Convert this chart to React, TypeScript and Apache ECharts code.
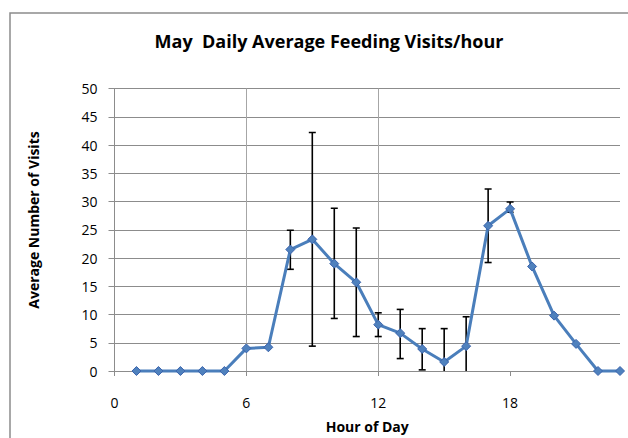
import React, { useEffect, useRef } from "react";
import * as echarts from "echarts";

const hours = [1, 2, 3, 4, 5, 6, 7, 8, 9, 10, 11, 12, 13, 14, 15, 16, 17, 18, 19, 20, 21, 22, 23];
const visits = [0, 0, 0, 0, 0, 4.0, 4.2, 21.5, 23.3, 19.0, 15.7, 8.2, 6.7, 3.9, 1.6, 4.4, 25.7, 28.7, 18.5, 9.8, 4.8, 0, 0];
const errHours = [8, 9, 10, 11, 12, 13, 14, 15, 16, 17, 18];
const errLow = [18.0, 4.4, 9.3, 6.1, 6.1, 2.2, 0.2, -4.2, -0.7, 19.2, 28.1];
const errHigh = [24.9, 42.2, 28.8, 25.3, 10.3, 10.9, 7.5, 7.5, 9.6, 32.2, 29.9];
const xTicks = [0, 6, 12, 18];

const FONT = "'Open Sans', 'Noto Sans', sans-serif";

export default function App() {
  const ref = useRef<HTMLDivElement>(null);
  useEffect(() => {
    if (!ref.current) return;
    const chart = echarts.init(ref.current, null, { renderer: "svg" });
    const lineData = hours.map((h, i) => [h, visits[i]]);
    const errData = errHours.map((h, i) => [h, errLow[i], errHigh[i]]);
    chart.setOption({
      animation: false,
      backgroundColor: "#ffffff",
      title: {
        text: "May  Daily Average Feeding Visits/hour",
        left: 324,
        top: 27,
        textAlign: "center",
        textStyle: { fontFamily: FONT, fontSize: 18, fontWeight: "bold", color: "#000" },
      },
      graphic: [
        {
          type: "rect",
          shape: { x: 10, y: 13, width: 700, height: 500 },
          style: { fill: "none", stroke: "#8c8c8c", lineWidth: 1.5 },
          silent: true,
          z: -10,
        },
        {
          type: "text",
          x: 33,
          y: 220,
          rotation: Math.PI / 2,
          style: {
            text: "Average Number of Visits",
            fontFamily: FONT,
            fontSize: 14,
            fontWeight: "bold",
            fill: "#000",
            align: "center",
            verticalAlign: "middle",
          },
        },
      ],
      grid: { left: 114.5, right: 8, top: 88.5, bottom: 62.5 },
      xAxis: {
        type: "value",
        min: 0,
        max: 23,
        interval: 6,
        name: "Hour of Day",
        nameLocation: "middle",
        nameGap: 48,
        nameTextStyle: { fontFamily: FONT, fontSize: 14, fontWeight: "bold", color: "#000" },
        axisLine: { show: true, onZero: false, lineStyle: { color: "#8c8c8c", width: 1 } },
        axisTick: { show: true, length: 5, customValues: xTicks, lineStyle: { color: "#8c8c8c" } },
        axisLabel: {
          customValues: xTicks,
          margin: 24,
          fontFamily: FONT,
          fontSize: 14,
          color: "#000",
        },
        splitLine: { show: true, showMinLine: false, showMaxLine: false, lineStyle: { color: "#a6a6a6", width: 1 } },
      },
      yAxis: {
        type: "value",
        min: 0,
        max: 50,
        interval: 5,
        axisLine: { show: true, lineStyle: { color: "#8c8c8c", width: 1 } },
        axisTick: { show: true, length: 6, lineStyle: { color: "#8c8c8c" } },
        axisLabel: { margin: 17, fontFamily: FONT, fontSize: 14, color: "#000" },
        splitLine: { show: true, lineStyle: { color: "#8c8c8c", width: 1 } },
      },
      series: [
        {
          type: "custom",
          clip: true,
          z: 1,
          data: errData,
          encode: { x: 0, y: [1, 2] },
          renderItem: (params: any, api: any) => {
            const x = api.value(0);
            const lo = api.coord([x, api.value(1)]);
            const hi = api.coord([x, api.value(2)]);
            const w = 3.5;
            const style = { stroke: "#000", lineWidth: 1.6 };
            return {
              type: "group",
              children: [
                { type: "line", shape: { x1: hi[0], y1: hi[1], x2: lo[0], y2: lo[1] }, style },
                { type: "line", shape: { x1: hi[0] - w, y1: hi[1], x2: hi[0] + w, y2: hi[1] }, style },
                { type: "line", shape: { x1: lo[0] - w, y1: lo[1], x2: lo[0] + w, y2: lo[1] }, style },
              ],
            };
          },
        },
        {
          type: "line",
          z: 3,
          data: lineData,
          symbol: "diamond",
          symbolSize: 9,
          clip: false,
          lineStyle: { color: "#4a7ebb", width: 3 },
          itemStyle: { color: "#4f81bd", borderColor: "#3b64ad", borderWidth: 1 },
        },
      ],
    });
    return () => chart.dispose();
  }, []);
  return (
    <div
      ref={ref}
      style={{ position: "fixed", left: 0, top: 0, width: 628, height: 438, overflow: "hidden" }}
    />
  );
}
